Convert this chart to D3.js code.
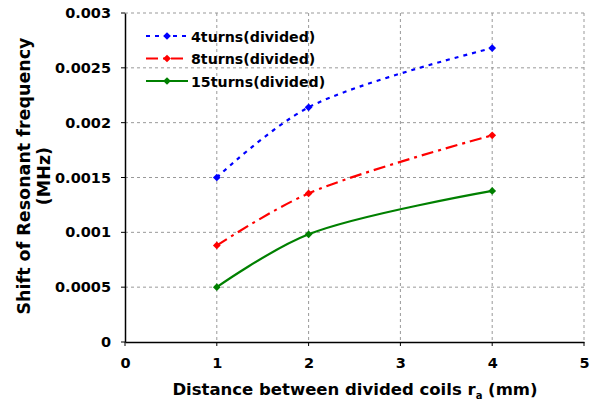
<!DOCTYPE html>
<html><head><meta charset="utf-8">
<script src="https://cdn.jsdelivr.net/npm/d3@7/dist/d3.min.js"></script>
<style>
body{margin:0;background:#fff;}
text{font-family:"DejaVu Sans",sans-serif;font-weight:bold;fill:#000;}
</style></head>
<body><svg id="c" width="601" height="406"></svg>
<script>
const xValues = [1, 2, 4];
const series4 = [0.0015, 0.00214, 0.00268];
const series8 = [0.00088, 0.001355, 0.001885];
const series15 = [0.0005, 0.000982, 0.001378];
const seriesNames = ["4turns(divided)", "8turns(divided)", "15turns(divided)"];
const seriesColors = ["#0000ff", "#ff0000", "#008000"];
const seriesDash = ["4,5", "12,5,3,5", null];
const xTicks = [0, 1, 2, 3, 4, 5];
const yTicks = [0, 0.0005, 0.001, 0.0015, 0.002, 0.0025, 0.003];
const yTickLabels = ["0", "0.0005", "0.001", "0.0015", "0.002", "0.0025", "0.003"];

const svg = d3.select("#c");
const L = 125, R = 584, T = 13, B = 342;
const x = d3.scaleLinear().domain([0, 5]).range([L, R]);
const y = d3.scaleLinear().domain([0, 0.003]).range([B, T]);

// grid
const g = svg.append("g");
g.selectAll(".gx").data(xTicks.slice(1)).enter().append("line")
  .attr("x1", d => x(d)).attr("x2", d => x(d)).attr("y1", T).attr("y2", B)
  .attr("stroke", "#999").attr("stroke-dasharray", "3,3").attr("stroke-width", 1);
g.selectAll(".gy").data(yTicks.slice(1)).enter().append("line")
  .attr("x1", L).attr("x2", R).attr("y1", d => y(d)).attr("y2", d => y(d))
  .attr("stroke", "#999").attr("stroke-dasharray", "3,3").attr("stroke-width", 1);

// axes
const xAxis = d3.axisBottom(x).tickValues(xTicks).tickSize(0).tickFormat(d3.format("d"));
const yAxis = d3.axisLeft(y).tickValues(yTicks).tickSize(0).tickFormat((d, i) => yTickLabels[i]);
const ax = svg.append("g").attr("transform", `translate(0,${B})`).call(xAxis);
ax.select(".domain").attr("stroke", "#000").attr("stroke-width", 1.5);
ax.selectAll("text").attr("dy", null).attr("y", 26).style("font-size", "14.5px");
const ay = svg.append("g").attr("transform", `translate(${L},0)`).call(yAxis);
ay.select(".domain").attr("stroke", "#000").attr("stroke-width", 1.5);
ay.selectAll("text").attr("x", -14).style("font-size", "14.5px");
ax.selectAll(".tick line").remove();
svg.append("g").selectAll("line").data(yTicks).enter().append("line")
  .attr("x1", L - 4).attr("x2", L).attr("y1", d => y(d)).attr("y2", d => y(d)).attr("stroke", "#000");
svg.append("g").selectAll("line").data(xTicks).enter().append("line")
  .attr("x1", d => x(d)).attr("x2", d => x(d)).attr("y1", B).attr("y2", B + 4).attr("stroke", "#000");

// series
const allSeries = [series4, series8, series15];
const line = d3.line().x(d => x(d[0])).y(d => y(d[1])).curve(d3.curveCatmullRom.alpha(0.5));
const marker = d3.symbol().type(d3.symbolSquare).size(30);
allSeries.forEach((s, i) => {
  const pts = xValues.map((xv, j) => [xv, s[j]]);
  svg.append("path").attr("d", line(pts)).attr("fill", "none")
    .attr("stroke", seriesColors[i]).attr("stroke-width", 2.2)
    .attr("stroke-dasharray", seriesDash[i]);
  svg.append("g").selectAll("path").data(pts).enter().append("path")
    .attr("d", marker).attr("transform", d => `translate(${x(d[0])},${y(d[1])}) rotate(45)`)
    .attr("fill", seriesColors[i]);
});

// legend
seriesNames.forEach((n, i) => {
  const yy = 36 + i * 22.5;
  svg.append("line").attr("x1", 146).attr("x2", 188).attr("y1", yy).attr("y2", yy)
    .attr("stroke", seriesColors[i]).attr("stroke-width", 2.2).attr("stroke-dasharray", seriesDash[i]);
  svg.append("path").attr("d", marker).attr("transform", `translate(167,${yy}) rotate(45)`).attr("fill", seriesColors[i]);
  svg.append("text").attr("x", 191).attr("y", yy + 5.5).style("font-size", "14.2px").text(n);
});

// titles
const xt = svg.append("text").attr("x", 355).attr("y", 395).attr("text-anchor", "middle").style("font-size", "16.5px");
xt.append("tspan").text("Distance between divided coils r");
xt.append("tspan").attr("dy", 4).style("font-size", "10px").text("a");
xt.append("tspan").attr("dy", -4).text(" (mm)");
const yt = svg.append("text").attr("transform", "translate(30,176) rotate(-90)").attr("text-anchor", "middle").style("font-size", "17.5px");
yt.append("tspan").attr("x", 0).attr("y", 0).text("Shift of Resonant frequency");
yt.append("tspan").attr("x", 0).attr("y", 20).text("(MHz)");
</script></body></html>
